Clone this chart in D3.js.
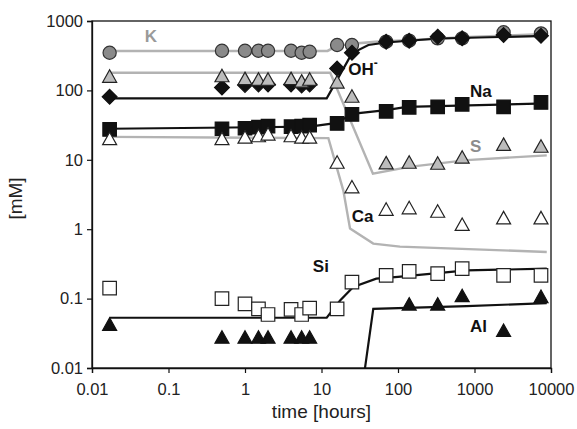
<!DOCTYPE html>
<meta charset="utf-8">
<title>Leaching concentrations</title>
<style>
  body { margin: 0; background: #fff; }
  svg { font-family: "Liberation Sans", Arial, sans-serif; }
  .tick text { font-size: 16.5px; fill: #222; }
  .lbl { font-size: 17px; font-weight: bold; }
</style>
<svg width="577" height="429"></svg>
<script src="https://d3js.org/d3.v7.min.js"></script>
<script>

  // sampling times [hours]
  var times = [0.017, 0.5, 1, 1.5, 2, 4, 5.5, 7, 16, 25, 70, 140, 330, 690, 2400, 7400];

  // measured concentrations [mM]
  var K  = [349, 373, 373, 373, 373, 373, 349, 360, 451, 451, 503, 520, 562, 562, 687, 663];
  var OH = [81, 110, 120, 122, 122, 122, 118, 122, 207, 350, 503, 520, 594, 562, 628, 614];
  var S  = [161, 164, 149, 146, 146, 149, 137, 146, 133, 83, 9.1, 9.3, 9.0, 11, 16.8, 15.8];
  var Na = [27.4, 28, 28.5, 29.5, 30.5, 30, 30.5, 31.5, 33.4, 45, 50, 57, 58, 63, 58, 67];
  var Ca = [20.3, 20.3, 21.4, 22.4, 23.7, 22.4, 21.4, 21.4, 9.3, 4.1, 1.95, 2.05, 1.83, 1.18, 1.47, 1.47];
  var Si = [0.142, 0.10, 0.084, 0.071, 0.059, 0.070, 0.059, 0.073, 0.071, 0.173, 0.216, 0.247, 0.229, 0.27, 0.216, 0.216];
  var Al = [0.043, 0.028, 0.028, 0.028, 0.028, 0.028, 0.028, 0.028, null, null, null, 0.084, 0.084, 0.111, 0.035, 0.108];

  // model curves [time, mM]
  var K_model  = [[0.017, 370], [12, 370], [16, 440], [25, 470], [50, 500], [150, 530], [700, 580], [8800, 650]];
  var OH_model = [[0.017, 77], [11.7, 77], [25, 342], [41, 451], [70, 490], [330, 560], [8800, 610]];
  var Na_model = [[0.017, 28], [7, 30], [16, 34], [25, 46], [70, 52], [130, 58], [8800, 65]];
  var S_model  = [[0.017, 180], [13, 180], [47, 6.3], [140, 7.9], [790, 9.9], [8800, 11.6]];
  var Ca_model = [[0.017, 21.4], [12.3, 20.5], [19.3, 3.6], [23.6, 1.02], [47.5, 0.62], [106, 0.56], [8800, 0.47]];
  var Si_model = [[0.017, 0.053], [11.7, 0.053], [17.5, 0.094], [26, 0.147], [52, 0.194], [100, 0.205], [790, 0.255], [8800, 0.27]];
  var Al_model = [[36, 0.008], [47.5, 0.071], [790, 0.078], [8800, 0.086]];

  var xTicks = [0.01, 0.1, 1, 10, 100, 1000, 10000];
  var yTicks = [0.01, 0.1, 1, 10, 100, 1000];

  // labels placed in data space [time, mM]
  var labels = [
    {t: "K",  x: 0.049, y: 497, c: "#9a9a9a"},
    {t: "OH", x: 22.4,  y: 166, c: "#111", sup: "-"},
    {t: "Na", x: 873,   y: 81,  c: "#111"},
    {t: "S",  x: 873,   y: 13,  c: "#8c8c8c"},
    {t: "Ca", x: 24.8,  y: 1.27, c: "#111"},
    {t: "Si", x: 7.7,   y: 0.24, c: "#111"},
    {t: "Al", x: 873,   y: 0.033, c: "#111"}
  ];

  var svg = d3.select("svg"),
      margin = {top: 21, right: 26, bottom: 61, left: 92},
      width = +svg.attr("width") - margin.left - margin.right,
      height = +svg.attr("height") - margin.top - margin.bottom,
      g = svg.append("g").attr("transform", "translate(" + margin.left + "," + margin.top + ")");

  var x = d3.scaleLog().domain([0.01, 10000]).range([0, width]);
  var y = d3.scaleLog().domain([0.01, 1000]).range([height, 0]);

  function fmt(d) { return d < 1 ? String(d) : d3.format("d")(d); }

  g.append("clipPath").attr("id", "clip")
    .append("rect").attr("width", width).attr("height", height);

  // frame
  g.append("rect")
    .attr("width", width).attr("height", height)
    .attr("fill", "none").attr("stroke", "#111").attr("stroke-width", 1.3);

  var xAxis = g.append("g")
    .attr("transform", "translate(0," + height + ")")
    .call(d3.axisBottom(x).tickValues(xTicks).tickFormat(fmt).tickSize(5).tickPadding(10));
  var yAxis = g.append("g")
    .call(d3.axisLeft(y).tickValues(yTicks).tickFormat(fmt).tickSize(5).tickPadding(4));
  [xAxis, yAxis].forEach(function(a) {
    a.select(".domain").attr("stroke", "#111").attr("stroke-width", 1.3);
    a.selectAll(".tick line").attr("stroke", "#111").attr("stroke-width", 1.2);
  });

  svg.append("text")
    .attr("x", margin.left + width / 2).attr("y", 418)
    .attr("text-anchor", "middle").style("font-size", "19px").attr("fill", "#222")
    .text("time [hours]");
  svg.append("text")
    .attr("transform", "translate(22," + (margin.top + height / 2 + 4) + ") rotate(-90)")
    .attr("text-anchor", "middle").style("font-size", "19px").attr("fill", "#222")
    .text("[mM]");

  var line = d3.line()
    .x(function(d) { return x(d[0]); })
    .y(function(d) { return y(d[1]); });

  var lines = g.append("g").attr("clip-path", "url(#clip)");
  [
    [K_model, "#b3b3b3", 2.6], [S_model, "#b3b3b3", 2.4], [Ca_model, "#b3b3b3", 2.4],
    [OH_model, "#111", 2.2], [Na_model, "#111", 2.2], [Si_model, "#111", 2.2], [Al_model, "#111", 2.2]
  ].forEach(function(s) {
    lines.append("path").datum(s[0])
      .attr("d", line).attr("fill", "none")
      .attr("stroke", s[1]).attr("stroke-width", s[2]);
  });

  // marker shapes centred on (0,0)
  function tri(w, h) { return "M0," + (-h / 2) + "L" + (w / 2) + "," + (h / 2) + "L" + (-w / 2) + "," + (h / 2) + "Z"; }
  function sq(s) { return "M" + (-s / 2) + "," + (-s / 2) + "h" + s + "v" + s + "h" + (-s) + "Z"; }
  function dia(r) { return "M0," + (-r) + "L" + r + ",0L0," + r + "L" + (-r) + ",0Z"; }
  function circ(r) { return d3.arc()({innerRadius: 0, outerRadius: r, startAngle: 0, endAngle: 2 * Math.PI}); }

  var series = [
    {v: K,  shape: circ(6.6),     fill: "#8a8a8a", stroke: "#333"},
    {v: OH, shape: dia(7.4),      fill: "#111",    stroke: "#111"},
    {v: S,  shape: tri(14, 12.5), fill: "#bcbcbc", stroke: "#222"},
    {v: Na, shape: sq(13.5),      fill: "#111",    stroke: "#111"},
    {v: Ca, shape: tri(14, 12.5), fill: "#fff",    stroke: "#222"},
    {v: Si, shape: sq(13.5),      fill: "#fff",    stroke: "#222"},
    {v: Al, shape: tri(14, 12.5), fill: "#111",    stroke: "#111"}
  ];

  series.forEach(function(s) {
    g.append("g").selectAll("path")
      .data(times.map(function(t, i) { return [t, s.v[i]]; }).filter(function(d) { return d[1] != null; }))
      .enter().append("path")
      .attr("transform", function(d) { return "translate(" + x(d[0]) + "," + y(d[1]) + ")"; })
      .attr("d", s.shape)
      .attr("fill", s.fill).attr("stroke", s.stroke).attr("stroke-width", 1.2);
  });

  labels.forEach(function(l) {
    var t = g.append("text").attr("class", "lbl")
      .attr("x", x(l.x)).attr("y", y(l.y)).attr("fill", l.c).text(l.t);
    if (l.sup) t.append("tspan").attr("dy", -8).style("font-size", "12px").text(l.sup);
  });

</script>
